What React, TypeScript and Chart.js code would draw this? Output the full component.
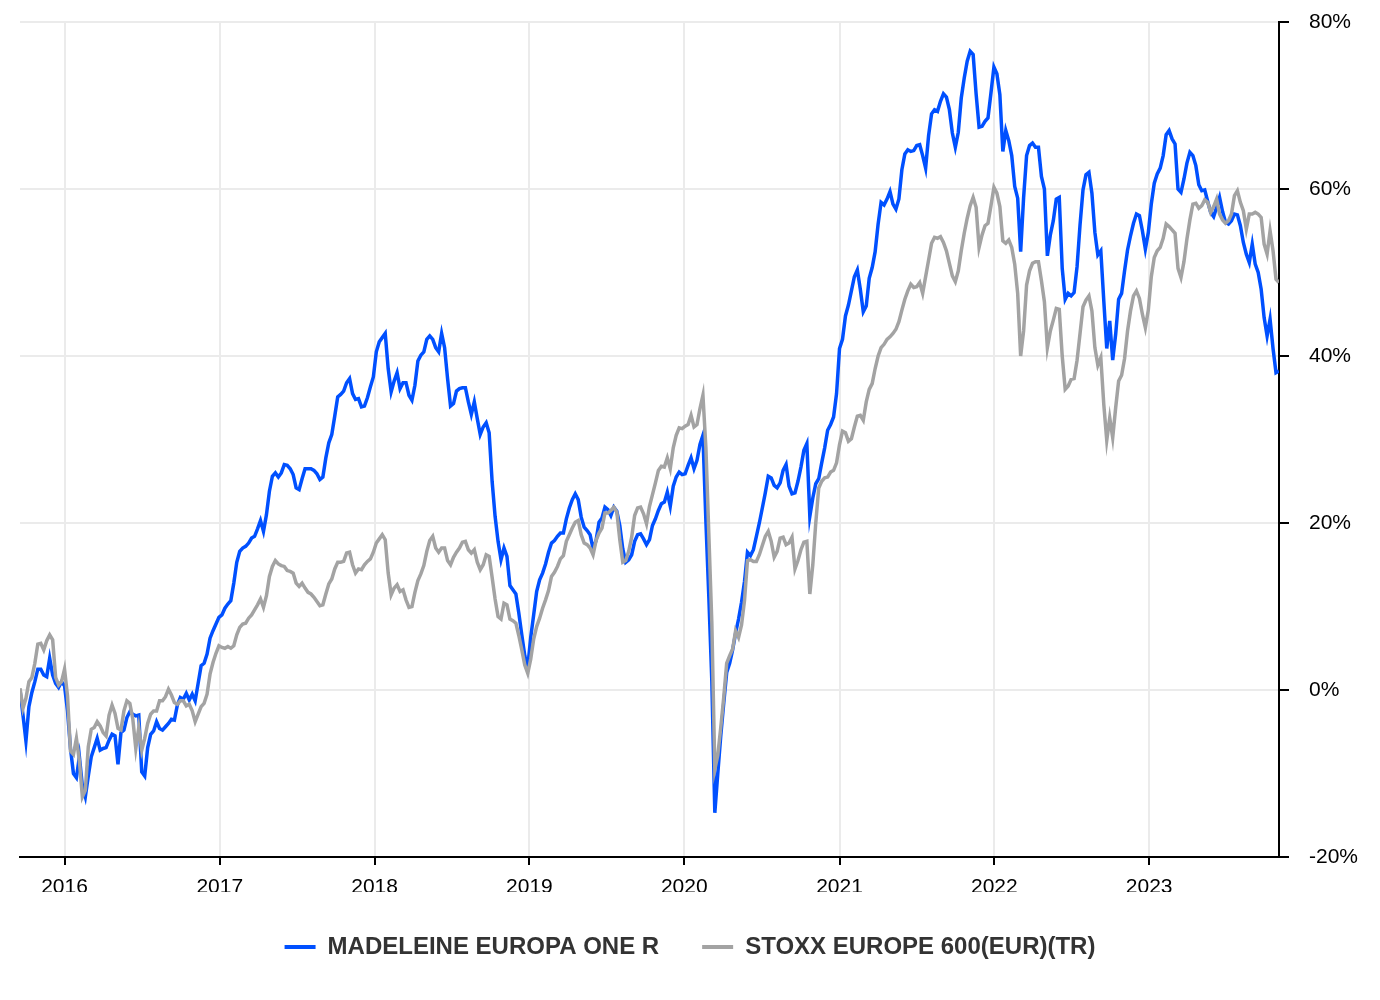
import React, { useRef, useEffect } from "react";
import Chart from "chart.js/auto";

// weekly closes (Friday), first one 2015-09-18, performance in %
const START_DATE = Date.UTC(2015, 8, 18);
const WEEK_MS = 7 * 24 * 3600 * 1000;

const yearTicks = [2016, 2017, 2018, 2019, 2020, 2021, 2022, 2023];
const seriesNames = ["MADELEINE EUROPA ONE R", "STOXX EUROPE 600(EUR)(TR)"];

const madeleine = [
  // 2015
  0, -3, -6.1, -2, -0.3, 1.0, 2.5, 2.5, 1.8, 1.6, 3.8, 1.8, 0.8, 0.3, 1.0,
  // 2016
  0.5, -2.5, -7.0, -10.0, -10.5, -8.0, -11.5, -12.8, -10.3, -8.0, -6.9, -5.8, -7.2, -7.0, -6.9, -6.0, -5.3, -5.5,
  -8.9, -5.1, -4.8, -3.3, -2.6, -2.9, -3.1, -3.0, -9.8, -10.3, -6.9, -5.3, -4.9, -3.8, -4.6, -4.8, -4.4, -4.0,
  -3.5, -3.6, -1.8, -0.9, -1.1, -0.4, -1.2, -0.5, -1.3, 0.8, 2.9, 3.2, 4.3, 6.2, 7.1, 7.9, 8.7,
  // 2017
  9.0, 9.8, 10.3, 10.7, 12.8, 15.3, 16.6, 17.0, 17.2, 17.6, 18.2, 18.4, 19.3, 20.3, 19.0, 21.0, 23.8, 25.6,
  26.0, 25.5, 26.0, 27.0, 26.9, 26.5, 25.8, 24.2, 24.0, 25.3, 26.5, 26.5, 26.5, 26.3, 25.9, 25.2, 25.5, 27.8,
  29.6, 30.6, 32.8, 35.1, 35.4, 35.8, 36.8, 37.3, 35.5, 34.8, 34.9, 33.9, 34.0, 35.0, 36.3, 37.5,
  // 2018
  40.5, 41.7, 42.2, 42.7, 38.5, 35.7, 37.0, 38.0, 36.1, 36.8, 36.8, 35.3, 34.7, 36.5, 39.4, 40.1, 40.5, 42.0,
  42.4, 42.0, 41.0, 40.5, 42.7, 41.0, 37.3, 34.0, 34.3, 35.8, 36.1, 36.2, 36.2, 34.5, 33.0, 34.5, 32.5, 30.6,
  31.5, 32.0, 30.8, 25.0, 20.8, 17.8, 15.6, 17.0, 16.0, 12.5, 12.0, 11.5, 9.2, 6.6, 4.1, 2.7,
  // 2019
  6.3, 9.0, 11.8, 13.2, 14.0, 15.1, 16.5, 17.6, 17.9, 18.4, 18.8, 18.8, 20.5, 21.8, 22.8, 23.5, 22.8, 20.7,
  19.5, 19.1, 18.6, 16.9, 17.9, 20.1, 20.6, 21.9, 21.6, 20.9, 21.9, 21.4, 19.7, 16.9, 15.3, 15.6, 16.2, 17.8,
  18.6, 18.7, 18.1, 17.4, 18.0, 19.7, 20.5, 21.5, 22.3, 22.5, 23.7, 22.0, 24.4, 25.5, 26.1, 25.8,
  // 2020
  25.9, 26.9, 27.8, 26.5, 27.5, 29.4, 30.5, 20.2, 11.0, 1.0, -14.7, -10.0, -5.5, -1.6, 2.1, 3.2, 4.8, 6.8,
  8.5, 10.5, 13.0, 16.5, 16.1, 16.8, 18.4, 20.0, 21.8, 23.6, 25.6, 25.4, 24.5, 24.2, 24.8, 26.3, 27.0, 24.4,
  23.5, 23.6, 25.0, 26.7, 28.7, 29.5, 20.8, 23.0, 24.7, 25.3, 27.2, 29.0, 31.1, 31.8, 32.7, 35.5,
  // 2021
  40.9, 42.0, 44.8, 46.1, 47.8, 49.5, 50.3, 48.0, 45.3, 46.0, 49.3, 50.6, 52.5, 55.8, 58.4, 58.1, 58.8, 59.7,
  58.2, 57.6, 58.8, 62.3, 64.2, 64.7, 64.5, 64.6, 65.2, 65.3, 64.0, 62.5, 66.4, 69.0, 69.5, 69.3, 70.5, 71.4,
  71.0, 69.5, 66.7, 65.0, 66.8, 70.9, 73.3, 75.3, 76.5, 76.1, 71.4, 67.4, 67.5, 68.1, 68.5, 71.5,
  // 2022
  74.6, 73.8, 71.3, 64.5, 67.0, 65.8, 64.0, 60.3, 58.9, 52.5, 59.0, 64.0, 65.2, 65.5, 65.0, 65.0, 61.5, 60.0,
  52.0, 54.5, 56.2, 58.8, 59.0, 50.5, 46.8, 47.5, 47.2, 47.6, 50.7, 55.7, 59.9, 61.7, 62.0, 59.5, 54.8, 52.1,
  52.6, 46.6, 40.9, 44.2, 39.5, 42.6, 46.8, 47.5, 50.2, 52.7, 54.4, 55.9, 57.0, 56.8, 55.0, 52.8, 54.8,
  // 2023
  58.2, 60.7, 61.8, 62.5, 64.0, 66.5, 67.0, 66.0, 65.4, 60.0, 59.6, 61.2, 63.1, 64.4, 64.0, 62.8, 60.5, 59.8,
  59.9, 58.5, 57.2, 56.7, 57.8, 59.0, 57.3, 56.0, 55.8, 56.2, 57.0, 56.9, 55.6, 53.6, 52.2, 51.2, 53.4, 51.0,
  50.0, 48.0, 44.6, 42.4, 44.4, 40.9, 38.0, 38.2,
];

const stoxx = [
  // 2015
  0.2, -2.2, -1.0, 1.0, 1.5, 3.2, 5.5, 5.6, 4.8, 5.9, 6.6, 6.0, 1.5, 0.6, 1.0,
  // 2016
  2.5, -0.7, -7.3, -7.7, -5.8, -8.5, -12.8, -12.0, -6.8, -4.7, -4.5, -3.8, -4.3, -5.1, -5.5, -3.0, -1.8, -2.8,
  -4.6, -4.8, -2.5, -1.3, -1.6, -3.5, -7.0, -4.5, -7.2, -5.8, -4.0, -2.9, -2.5, -2.5, -1.3, -1.3, -0.8, 0.1,
  -0.6, -1.5, -1.7, -1.3, -1.3, -1.9, -1.7, -2.5, -3.8, -2.9, -2.0, -1.6, -0.5, 1.9, 3.3, 4.4, 5.3,
  // 2017
  5.1, 5.0, 5.2, 5.0, 5.3, 6.6, 7.5, 7.9, 8.0, 8.6, 9.0, 9.6, 10.2, 10.9, 9.9, 11.3, 13.6, 14.8,
  15.5, 15.1, 14.9, 14.8, 14.3, 14.2, 14.0, 12.8, 12.4, 12.8, 12.2, 11.7, 11.5, 11.1, 10.6, 10.1, 10.2, 11.5,
  12.7, 13.3, 14.5, 15.3, 15.3, 15.4, 16.4, 16.5, 15.0, 14.0, 14.5, 14.4, 15.0, 15.4, 15.7, 16.5,
  // 2018
  17.6, 18.1, 18.6, 18.0, 14.0, 11.4, 12.2, 12.6, 11.8, 12.0, 10.8, 9.9, 10.0, 11.7, 13.1, 13.9, 14.9, 16.6,
  17.9, 18.4, 17.0, 16.5, 17.0, 17.0, 15.5, 15.0, 15.9, 16.5, 17.0, 17.7, 17.8, 16.8, 16.4, 16.8, 15.3, 14.4,
  15.0, 16.2, 16.0, 13.5, 10.9, 8.8, 8.5, 10.4, 10.2, 8.5, 8.3, 8.0, 6.5, 4.8, 3.0, 2.0,
  // 2019
  3.7, 6.1, 7.6, 8.6, 9.8, 10.8, 11.9, 13.6, 14.1, 14.8, 15.7, 16.1, 17.8, 18.6, 19.4, 20.1, 20.3, 18.6,
  17.6, 17.4, 17.0, 16.2, 17.9, 18.8, 19.4, 21.2, 21.2, 21.5, 21.9, 21.3, 18.0, 15.3, 15.5, 16.6, 18.3, 20.9,
  21.8, 21.9, 21.1, 19.9, 22.0, 23.4, 24.8, 26.3, 26.8, 26.7, 27.8, 26.5, 29.0, 30.5, 31.4, 31.3,
  // 2020
  31.6, 31.8, 32.9, 31.5, 31.8, 33.7, 35.3, 29.0, 18.5, 8.0, -9.5, -7.8, -4.5, -0.9, 3.2, 4.1, 4.9, 7.1,
  6.3, 7.8, 10.7, 15.5, 15.6, 15.4, 15.4, 16.2, 17.3, 18.4, 19.0, 17.8, 15.9, 16.6, 18.2, 18.3, 17.4, 17.6,
  18.3, 14.5, 15.5, 16.8, 17.7, 17.8, 11.5, 15.0, 20.0, 24.2, 25.0, 25.4, 25.5, 26.1, 26.3, 27.2,
  // 2021
  29.4, 31.0, 30.8, 29.8, 30.1, 31.5, 32.8, 32.9, 32.3, 34.5, 36.0, 36.7, 38.5, 40.0, 41.0, 41.4, 42.0, 42.3,
  42.7, 43.2, 44.1, 45.5, 46.8, 47.8, 48.6, 48.2, 48.3, 48.8, 47.5, 49.5, 51.5, 53.5, 54.2, 54.1, 54.3, 53.6,
  52.6, 51.1, 49.6, 48.9, 50.2, 52.6, 54.7, 56.5, 58.0, 59.0, 57.8, 53.0, 54.5, 55.6, 55.9, 58.0,
  // 2022
  60.2, 59.5, 57.9, 53.8, 53.5, 53.9, 53.0, 51.0, 47.5, 40.0, 43.0, 48.5, 50.2, 51.1, 51.3, 51.3, 49.0, 46.5,
  41.0, 43.0, 44.3, 45.7, 45.6, 40.0, 36.0, 36.4, 37.2, 37.3, 39.5, 42.7, 45.9, 46.7, 47.2, 45.4, 41.0, 38.9,
  39.8, 34.2, 29.9, 32.6, 30.2, 33.8, 37.0, 37.7, 39.7, 43.0, 45.4, 47.2, 47.8, 46.9, 45.0, 43.4, 45.5,
  // 2023
  49.5, 51.8, 52.6, 53.0, 54.1, 55.8, 55.5, 55.1, 54.7, 50.5, 49.4, 51.3, 54.0, 56.3, 58.2, 58.3, 57.7, 58.0,
  58.7, 58.4, 57.2, 57.9, 58.8, 57.0, 56.3, 55.9, 56.2, 57.0, 59.2, 59.8, 58.4, 57.4, 55.2, 57.0, 57.0, 57.2,
  57.0, 56.6, 53.4, 52.2, 55.0, 52.6, 49.2, 48.8,
];

const BLUE = "#0050ff";
const GREY = "#a3a3a3";
const FONT = "'Liberation Sans', Arial, Helvetica, sans-serif";

const toPoints = (values: number[]) =>
  values.map((v, i) => ({ x: START_DATE + i * WEEK_MS, y: v }));

const PerformanceChart: React.FC = () => {
  const chartRef = useRef<HTMLCanvasElement | null>(null);

  useEffect(() => {
    document.body.style.margin = "0";
    if (!chartRef.current) return;

    const lastDate = START_DATE + (madeleine.length - 1) * WEEK_MS;

    const myChart = new Chart(chartRef.current, {
      type: "line",
      data: {
        datasets: [
          {
            label: seriesNames[0],
            data: toPoints(madeleine),
            borderColor: BLUE,
            backgroundColor: BLUE,
            borderWidth: 3.5,
            pointRadius: 0,
            tension: 0,
            order: 2,
          },
          {
            label: seriesNames[1],
            data: toPoints(stoxx),
            borderColor: GREY,
            backgroundColor: GREY,
            borderWidth: 3.5,
            pointRadius: 0,
            tension: 0,
            order: 1,
          },
        ],
      },
      options: {
        animation: false,
        responsive: true,
        maintainAspectRatio: false,
        layout: { padding: { left: 2, right: 2, top: 22, bottom: 31 } },
        scales: {
          x: {
            type: "linear",
            min: START_DATE,
            max: lastDate,
            afterBuildTicks: (axis: any) => {
              axis.ticks = yearTicks.map((y) => ({ value: Date.UTC(y, 0, 1) }));
            },
            afterFit: (axis: any) => {
              axis.height = 35;
            },
            ticks: {
              autoSkip: false,
              maxRotation: 0,
              padding: 10,
              color: "#000",
              font: { family: FONT, size: 21 },
              callback: (v: any) => String(new Date(Number(v)).getUTCFullYear()),
            },
            grid: {
              color: "#ebebeb",
              lineWidth: 2,
              tickLength: 8,
              tickColor: "#000",
              tickWidth: 2,
            },
            border: { color: "#000", width: 2 },
          },
          // empty spacer on the left so the plot starts where the original does
          spacer: {
            type: "linear",
            position: "left",
            display: true,
            ticks: { display: false },
            grid: { display: false, drawTicks: false },
            border: { display: false },
            afterFit: (axis: any) => {
              axis.width = 18;
              axis.paddingTop = 0;
              axis.paddingBottom = 0;
            },
          },
          y: {
            position: "right",
            min: -20,
            max: 80,
            afterFit: (axis: any) => {
              axis.paddingTop = 0;
              axis.paddingBottom = 0;
            },
            ticks: {
              stepSize: 20,
              padding: 20,
              color: "#000",
              font: { family: FONT, size: 21 },
              callback: (v: any) => `${v}%`,
            },
            grid: {
              color: "#ebebeb",
              lineWidth: 2,
              tickLength: 10,
              tickColor: "#000",
              tickWidth: 2,
            },
            border: { color: "#000", width: 2 },
          },
        },
        plugins: {
          tooltip: { enabled: false },
          legend: {
            position: "bottom",
            labels: {
              boxWidth: 31,
              boxHeight: 4,
              padding: 43,
              color: "#333",
              font: { family: FONT, size: 24, weight: "bold" },
              generateLabels: (chart: any) =>
                chart.data.datasets.map((ds: any, i: number) => ({
                  text: ds.label,
                  fillStyle: ds.borderColor,
                  strokeStyle: ds.borderColor,
                  lineWidth: 0,
                  hidden: false,
                  datasetIndex: i,
                  fontColor: "#333",
                })),
            },
          },
        },
      },
    } as any);

    return () => {
      myChart.destroy();
    };
  }, []);

  return (
    <div style={{ width: "1380px", height: "1000px", position: "relative" }}>
      <canvas ref={chartRef}></canvas>
    </div>
  );
};

export default function App() {
  return <PerformanceChart />;
}
